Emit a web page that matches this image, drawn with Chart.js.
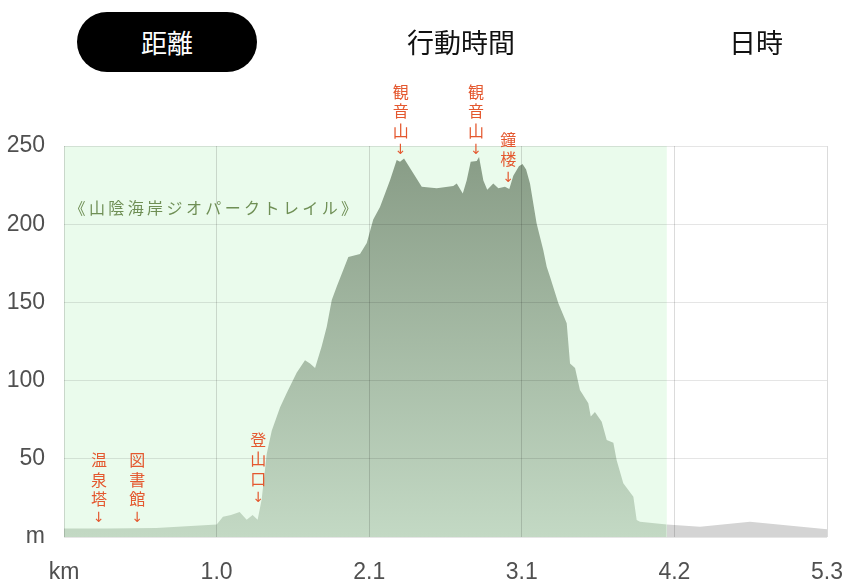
<!DOCTYPE html>
<html lang="ja">
<head>
<meta charset="utf-8">
<script src="https://cdn.jsdelivr.net/npm/chart.js@4.4.1/dist/chart.umd.min.js"></script>
<style>
    html, body { margin: 0; padding: 0; background: #fff; }
    body { width: 852px; height: 586px; position: relative; overflow: hidden; font-family: "Noto Sans CJK JP", sans-serif; }
    #profile { position: absolute; left: 0; top: 0; }
    .tab { position: absolute; top: 12px; height: 60px; line-height: 60px; font-size: 27px; color: #111; text-align: center; }
    .tab.active { background: #000; color: #fff; border-radius: 30px; font-size: 26px; }
</style>
</head>
<body>
<canvas id="profile" width="852" height="586"></canvas>
<div class="tab active" style="left:77px; width:180px;">距離</div>
<div class="tab" style="left:381px; width:160px;">行動時間</div>
<div class="tab" style="left:696px; width:120px;">日時</div>

<script>
// --- DATA ---
// walked part of the track (green)
const walkedKm = [0, 0.30, 0.64, 1.061, 1.104, 1.16, 1.22, 1.269, 1.31, 1.345, 1.373, 1.408, 1.443, 1.501,
    1.547, 1.616, 1.674, 1.709, 1.744, 1.790, 1.825, 1.860, 1.894, 1.975, 2.056, 2.103, 2.148, 2.195, 2.264,
    2.311, 2.334, 2.362, 2.485, 2.589, 2.704, 2.728, 2.770, 2.797, 2.825, 2.867, 2.883, 2.913, 2.940, 2.982,
    3.017, 3.063, 3.093, 3.121, 3.160, 3.185, 3.210, 3.237, 3.283, 3.329, 3.353, 3.376, 3.434, 3.492, 3.515,
    3.550, 3.584, 3.642, 3.659, 3.688, 3.735, 3.770, 3.816, 3.839, 3.885, 3.955, 3.978, 4.001, 4.187];
const walkedElev = [5.5, 5.5, 5.8, 8, 13, 14, 16, 11, 14, 11, 24, 53, 68, 83,
    92, 105, 113, 111, 108, 122, 134.5, 151.5, 160, 179, 181, 188, 203, 211, 228,
    241, 240, 242, 224, 223, 224.4, 226, 219.7, 228, 240, 240.4, 243, 228, 222, 226,
    223, 224, 222.5, 231, 237, 238.5, 235, 226, 200.5, 183.5, 172.8, 166.4, 149.4, 136.6, 111,
    108, 94, 85.5, 77, 80, 73.7, 62, 60.3, 49, 34.3, 25.8, 10.9, 9.8, 8];

// rest of the route (grey)
const remainingKm = [4.187, 4.418, 4.765, 4.996, 5.3];
const remainingElev = [8, 6.6, 9.8, 7.7, 4.9];

const xTickKm = [0, 1.06, 2.12, 3.18, 4.24, 5.3];
const xTickLabels = ['km', '1.0', '2.1', '3.1', '4.2', '5.3'];
const yTickLabels = { 0: 'm', 50: '50', 100: '100', 150: '150', 200: '200', 250: '250' };

const trailTitle = '《山陰海岸ジオパークトレイル》';
const landmarkNames = ['温泉塔', '図書館', '登山口', '観音山', '観音山', '鐘楼'];
const landmarkKm = [0.243, 0.509, 1.350, 2.339, 2.862, 3.086];
const landmarkElev = [8, 8, 21, 243.6, 243.6, 225.4];

// --- PLUGINS ---
const walkedBackground = {
    id: 'walkedBackground',
    beforeDatasetsDraw(chart) {
        const { ctx, chartArea, scales } = chart;
        const right = scales.x.getPixelForValue(walkedKm[walkedKm.length - 1]);
        ctx.save();
        ctx.fillStyle = '#eafbec';
        ctx.fillRect(chartArea.left, chartArea.top, right - chartArea.left, chartArea.bottom - chartArea.top);
        ctx.restore();
    }
};

const routeNotes = {
    id: 'routeNotes',
    afterDraw(chart) {
        const { ctx, scales } = chart;
        ctx.save();
        ctx.textAlign = 'center';
        ctx.textBaseline = 'middle';

        // trail name, spaced out char by char
        ctx.fillStyle = '#6f8f55';
        ctx.font = '16px "Noto Sans CJK JP"';
        [...trailTitle].forEach((ch, i) => ctx.fillText(ch, 77.5 + i * 19.4, 208));

        // vertical landmark labels with an arrow
        ctx.fillStyle = '#e4582f';
        landmarkNames.forEach((name, i) => {
            const x = scales.x.getPixelForValue(landmarkKm[i]);
            const tip = scales.y.getPixelForValue(landmarkElev[i]);
            const chars = [...name, '↓'];
            chars.forEach((ch, j) => {
                ctx.font = ch === '↓' ? '14px "DejaVu Sans"' : '16px "Noto Sans CJK JP"';
                ctx.fillText(ch, x, tip - 6 - (chars.length - 1 - j) * 19.5);
            });
        });
        ctx.restore();
    }
};

document.addEventListener('DOMContentLoaded', function () {
    const ctx = document.getElementById('profile');

    const walkedFill = (context) => {
        const area = context.chart.chartArea;
        if (!area) return '#a9bfa8';
        const g = context.chart.ctx.createLinearGradient(0, area.top, 0, area.bottom);
        g.addColorStop(0, '#879b85');
        g.addColorStop(1, '#c3d9c4');
        return g;
    };

    const tickFont = { family: '"Liberation Sans", Arial, sans-serif', size: 23 };

    new Chart(ctx, {
        type: 'line',
        data: {
            datasets: [
                {
                    data: walkedKm.map((k, i) => ({ x: k, y: walkedElev[i] })),
                    fill: 'origin', backgroundColor: walkedFill, borderWidth: 0, pointRadius: 0, tension: 0
                },
                {
                    data: remainingKm.map((k, i) => ({ x: k, y: remainingElev[i] })),
                    fill: 'origin', backgroundColor: '#d4d4d4', borderWidth: 0, pointRadius: 0, tension: 0
                }
            ]
        },
        options: {
            responsive: false, animation: false,
            layout: { padding: { top: 146, right: 25, left: 0, bottom: 0 } },
            plugins: { legend: { display: false }, tooltip: { enabled: false } },
            scales: {
                x: {
                    type: 'linear', min: 0, max: 5.3,
                    afterBuildTicks: scale => { scale.ticks = xTickKm.map(v => ({ value: v })); },
                    afterFit: scale => { scale.height = 49; scale.paddingLeft = 0; scale.paddingRight = 0; },
                    grid: { color: 'rgba(0,0,0,0.14)', drawTicks: false, z: 1 },
                    border: { display: false },
                    ticks: {
                        color: '#505050', font: tickFont, padding: 22, maxRotation: 0, autoSkip: false,
                        callback: (v, i) => xTickLabels[i]
                    }
                },
                y: {
                    min: 0, max: 250,
                    afterFit: scale => { scale.width = 64; scale.paddingTop = 0; scale.paddingBottom = 0; },
                    grid: { color: 'rgba(0,0,0,0.1)', drawTicks: false, z: 1 },
                    border: { display: false },
                    ticks: {
                        color: '#505050', font: tickFont, padding: 19, stepSize: 50,
                        callback: v => yTickLabels[v]
                    }
                }
            }
        },
        plugins: [walkedBackground, routeNotes]
    });
});
</script>
</body>
</html>
